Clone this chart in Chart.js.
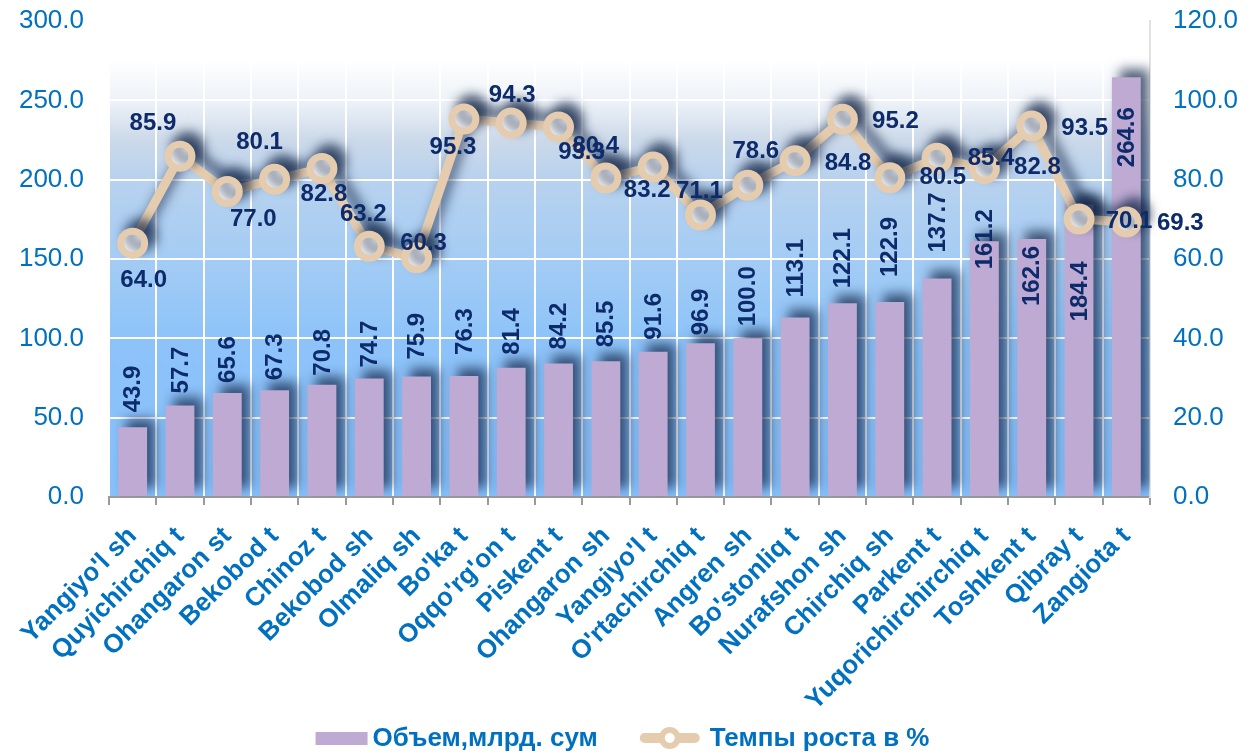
<!DOCTYPE html>
<html>
<head>
<meta charset="utf-8">
<script src="https://cdn.jsdelivr.net/npm/chart.js@4.4.1/dist/chart.umd.min.js"></script>
<style>
    html, body { margin: 0; padding: 0; background: #fff; overflow: hidden; }
    canvas { display: block; }
</style>
</head>
<body>
<canvas id="chart" width="1253" height="753"></canvas>
<script>
// --- Data ---
const districts = [
    "Yangiyo'l sh", 'Quyichirchiq t', 'Ohangaron st', 'Bekobod t', 'Chinoz t',
    'Bekobod sh', 'Olmaliq sh', "Bo'ka t", "Oqqo'rg'on t", 'Piskent t',
    'Ohangaron sh', "Yangiyo'l t", "O'rtachirchiq t", 'Angren sh', "Bo'stonliq t",
    'Nurafshon sh', 'Chirchiq sh', 'Parkent t', 'Yuqorichirchirchiq t', 'Toshkent t',
    'Qibray t', 'Zangiota t',
];
const volume = [
    43.9, 57.7, 65.6, 67.3, 70.8, 74.7, 75.9, 76.3, 81.4, 84.2, 85.5,
    91.6, 96.9, 100.0, 113.1, 122.1, 122.9, 137.7, 161.2, 162.6, 184.4, 264.6,
];
const growth = [
    64.0, 85.9, 77.0, 80.1, 82.8, 63.2, 60.3, 95.3, 94.3, 93.3, 80.4,
    83.2, 71.1, 78.6, 84.8, 95.2, 80.5, 85.4, 82.8, 93.5, 70.1, 69.3,
];
const volumeName = 'Объем,млрд. сум';
const growthName = 'Темпы роста в %';
const leftAxis = { min: 0, max: 300, step: 50 };
const rightAxis = { min: 0, max: 120, step: 20 };

// --- Label placement (px, styling only) ---
// gap between bar top and the end of its vertical label; negative = inside the bar
const barLabelGap = [15, 12, 10, 10, 9, 11, 17, 21, 13, 14, 14, 12, 8, 12, 20, 15, 25, 26, -28, -67, -117, -90];
// [dx, dy] of each growth label centre from its point
const growthLabelShift = [
    [11, 37], [-27, -33], [26, 28], [-15, -37], [2, 26], [-6, -32], [7, -14], [-11, 28],
    [1, -28], [23, 25], [-10, -32], [-6, 23], [-1, -24], [8, -34], [53, 3], [53, 2],
    [53, 0], [54, 0], [53, -1], [53, 2], [50, 2], [54, 1],
];

// --- Colors / fonts ---
const C_BAR = '#BEAAD2';
const C_LINE = '#E5CCAE';
const C_AXIS = '#0070C0';
const C_LABEL = '#0D2B6B';
const FONT = '"Liberation Sans", Arial, sans-serif';

// plot area background: white at top fading into light blue
const bgPlugin = {
    id: 'plotBg',
    beforeDraw(chart) {
        const { ctx, chartArea: a } = chart;
        const g = ctx.createLinearGradient(0, a.top, 0, a.bottom);
        g.addColorStop(0, '#FFFFFF');
        g.addColorStop(0.08, '#FFFFFF');
        g.addColorStop(0.17, '#EDF2F8');
        g.addColorStop(0.25, '#CCD9E9');
        g.addColorStop(0.33, '#B8D2EE');
        g.addColorStop(0.5, '#A4CCF4');
        g.addColorStop(0.67, '#8DC3F9');
        g.addColorStop(1, '#86BFFA');
        ctx.save();
        ctx.fillStyle = g;
        ctx.fillRect(a.left, a.top, a.right - a.left, a.bottom - a.top);
        ctx.restore();
    },
};

// dark soft shadow up-right of bars and line
const shadowPlugin = {
    id: 'dsShadow',
    beforeDatasetDraw(chart) {
        const { ctx } = chart;
        ctx.save();
        ctx.shadowColor = 'rgba(20,38,70,0.72)';
        ctx.shadowBlur = 12;
        ctx.shadowOffsetX = 8;
        ctx.shadowOffsetY = -8;
    },
    afterDatasetDraw(chart) {
        chart.ctx.restore();
    },
};

const valueLabelPlugin = {
    id: 'valueLabels',
    afterDatasetsDraw(chart) {
        const { ctx } = chart;
        ctx.save();
        ctx.font = `bold 24px ${FONT}`;
        ctx.fillStyle = C_LABEL;
        // bar labels, vertical
        chart.getDatasetMeta(1).data.forEach((bar, i) => {
            ctx.save();
            ctx.translate(bar.x, bar.y - barLabelGap[i]);
            ctx.rotate(-Math.PI / 2);
            ctx.textAlign = 'left';
            ctx.textBaseline = 'middle';
            ctx.fillText(volume[i].toFixed(1), 0, 1);
            ctx.restore();
        });
        // growth labels
        ctx.textAlign = 'center';
        ctx.textBaseline = 'middle';
        chart.getDatasetMeta(0).data.forEach((pt, i) => {
            const [dx, dy] = growthLabelShift[i];
            ctx.fillText(growth[i].toFixed(1), pt.x + dx, pt.y + dy);
        });
        ctx.restore();
    },
};

// legend drawn by hand so spacing matches the reference
const legendPlugin = {
    id: 'bottomLegend',
    afterDraw(chart) {
        const { ctx, width } = chart;
        const y = 738;
        ctx.save();
        ctx.font = `bold 26px ${FONT}`;
        const w1 = ctx.measureText(volumeName).width;
        const w2 = ctx.measureText(growthName).width;
        const total = 52 + 5 + w1 + 42 + 60 + 10 + w2;
        let x = (width - total) / 2 - 4;
        ctx.fillStyle = C_BAR;
        ctx.fillRect(x, y - 6, 52, 13);
        x += 57;
        ctx.fillStyle = C_AXIS;
        ctx.textBaseline = 'middle';
        ctx.fillText(volumeName, x, y + 1);
        x += w1 + 42;
        ctx.strokeStyle = C_LINE;
        ctx.lineWidth = 10;
        ctx.lineCap = 'round';
        ctx.beginPath();
        ctx.moveTo(x + 5, y);
        ctx.lineTo(x + 55, y);
        ctx.stroke();
        ctx.beginPath();
        ctx.arc(x + 30, y, 11, 0, Math.PI * 2);
        ctx.fillStyle = C_LINE;
        ctx.fill();
        ctx.beginPath();
        ctx.arc(x + 30, y, 5, 0, Math.PI * 2);
        ctx.fillStyle = '#fff';
        ctx.fill();
        x += 70;
        ctx.fillStyle = C_AXIS;
        ctx.fillText(growthName, x, y + 1);
        ctx.restore();
    },
};

const fmt = (v) => Number(v).toFixed(1);

new Chart(document.getElementById('chart'), {
    data: {
        labels: districts,
        datasets: [
            {
                type: 'line',
                label: growthName,
                data: growth,
                yAxisID: 'y1',
                order: 0,
                borderColor: C_LINE,
                borderWidth: 9,
                pointRadius: 12,
                pointBorderWidth: 7,
                pointBackgroundColor: '#FFFFFF',
                pointBorderColor: C_LINE,
                tension: 0,
            },
            {
                type: 'bar',
                label: volumeName,
                data: volume,
                yAxisID: 'y',
                order: 1,
                backgroundColor: C_BAR,
                categoryPercentage: 1,
                barPercentage: 0.61,
            },
        ],
    },
    options: {
        responsive: false,
        animation: false,
        events: [],
        layout: { autoPadding: false, padding: { top: 21, left: 0, right: 0, bottom: 0 } },
        plugins: {
            legend: { display: false },
            tooltip: { enabled: false },
        },
        scales: {
            x: {
                offset: true,
                grid: { color: '#FFFFFF', lineWidth: 2, offset: true, tickLength: 8, tickColor: '#9A9A9A', tickWidth: 2 },
                border: { color: '#9A9A9A', width: 2 },
                ticks: {
                    color: C_AXIS,
                    font: { family: FONT, size: 26, weight: 'bold' },
                    maxRotation: 45,
                    minRotation: 45,
                    autoSkip: false,
                    padding: 16,
                },
                afterFit(scale) { scale.height = 256; },
            },
            y: {
                position: 'left',
                min: leftAxis.min,
                max: leftAxis.max,
                // invisible tick marks give the label gap (ticks.padding would also pad the top)
                grid: { color: '#FFFFFF', lineWidth: 2, tickLength: 25, tickColor: 'rgba(0,0,0,0)' },
                border: { display: false },
                ticks: {
                    stepSize: leftAxis.step,
                    color: C_AXIS,
                    font: { family: FONT, size: 26 },
                    padding: 0,
                    callback: fmt,
                },
                afterFit(scale) { scale.width = 109; },
            },
            y1: {
                position: 'right',
                min: rightAxis.min,
                max: rightAxis.max,
                grid: { drawOnChartArea: false, tickLength: 23, tickColor: 'rgba(0,0,0,0)' },
                border: { color: '#E2E2E2', width: 2 },
                ticks: {
                    stepSize: rightAxis.step,
                    color: C_AXIS,
                    font: { family: FONT, size: 26 },
                    padding: 0,
                    callback: fmt,
                },
                afterFit(scale) { scale.width = 103; },
            },
        },
    },
    plugins: [bgPlugin, shadowPlugin, valueLabelPlugin, legendPlugin],
});
</script>
</body>
</html>
